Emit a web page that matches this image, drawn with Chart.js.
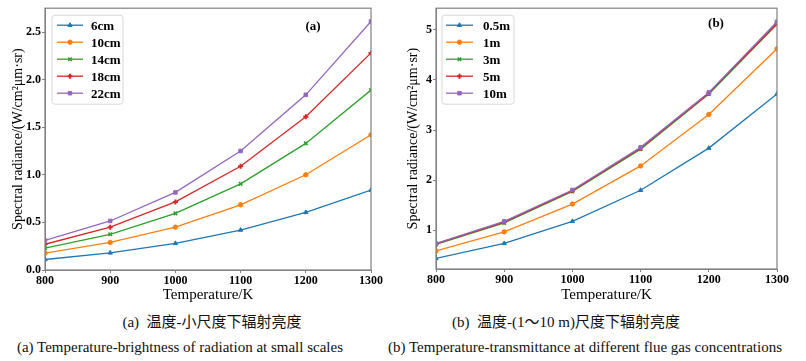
<!DOCTYPE html>
<html><head><meta charset="utf-8">
<script src="https://cdn.jsdelivr.net/npm/chart.js@4.4.1/dist/chart.umd.min.js"></script>
<style>
html,body{margin:0;padding:0;background:#fff;}
body{width:806px;height:361px;overflow:hidden;position:relative;font-family:"Liberation Serif","Noto Sans CJK SC",serif;color:#111;}
.c{position:absolute;top:0;width:403px;height:305px;}
.cap{position:absolute;font-size:15px;line-height:18px;white-space:nowrap;transform:translateX(-50%);}
</style></head><body>
<div class="c" style="left:0"><canvas id="ca" width="403" height="305"></canvas></div>
<div class="c" style="left:403px"><canvas id="cb" width="403" height="305"></canvas></div>
<div class="cap" style="left:212px;top:313px">(a)&nbsp; 温度-小尺度下辐射亮度</div>
<div class="cap" style="left:180px;top:338px">(a) Temperature-brightness of radiation at small scales</div>
<div class="cap" style="left:566px;top:313px">(b)&nbsp; 温度-(1～10 m)尺度下辐射亮度</div>
<div class="cap" style="left:585px;top:338px">(b) Temperature-transmittance at different flue gas concentrations</div>
<script>
// ---- data ----
const temperatures = [800, 900, 1000, 1100, 1200, 1300];
const labelsA = ['6cm', '10cm', '14cm', '18cm', '22cm'];
const a6cm  = [0.11, 0.18, 0.28, 0.42, 0.605, 0.84];
const a10cm = [0.177, 0.29, 0.45, 0.685, 1.0, 1.42];
const a14cm = [0.23, 0.375, 0.595, 0.905, 1.33, 1.89];
const a18cm = [0.27, 0.45, 0.715, 1.09, 1.61, 2.28];
const a22cm = [0.31, 0.515, 0.815, 1.25, 1.84, 2.61];
const labelsB = ['0.5m', '1m', '3m', '5m', '10m'];
const b05m = [0.44, 0.74, 1.18, 1.80, 2.64, 3.72];
const b1m  = [0.59, 0.97, 1.525, 2.285, 3.31, 4.62];
const b3m  = [0.72, 1.15, 1.775, 2.62, 3.72, 5.11];
const b5m  = [0.73, 1.165, 1.79, 2.64, 3.735, 5.13];
const b10m = [0.74, 1.18, 1.805, 2.655, 3.75, 5.16];
const yTicksA = [0.0, 0.5, 1.0, 1.5, 2.0, 2.5];
const yTicksB = [1, 2, 3, 4, 5];

// ---- styles ----
const colors = ['#1f77b4', '#ff7f0e', '#2ca02c', '#d62728', '#9467bd'];
const markers = [
  {pointStyle: 'triangle', pointRadius: 2.5, pointBorderWidth: 1},
  {pointStyle: 'circle', pointRadius: 2.2, pointBorderWidth: 1},
  {pointStyle: 'crossRot', pointRadius: 2.5, pointBorderWidth: 1.5},
  {pointStyle: 'cross', pointRadius: 2.5, pointBorderWidth: 2},
  {pointStyle: 'rect', pointRadius: 2.5, pointBorderWidth: 1}
];
const SERIF = '"Liberation Serif", "Times New Roman", serif';
Chart.defaults.font.family = SERIF;
Chart.defaults.color = '#000';

function makeDatasets(labels, series) {
  return series.map((vals, i) => Object.assign({
    label: labels[i],
    data: temperatures.map((t, j) => ({x: t, y: vals[j]})),
    borderColor: colors[i],
    backgroundColor: colors[i],
    borderWidth: 1.3,
    tension: 0,
    order: series.length - i
  }, markers[i]));
}

const framePlugin = {
  id: 'frameLegend',
  afterDraw(chart, args, o) {
    const ctx = chart.ctx, a = chart.chartArea;
    ctx.save();
    ctx.strokeStyle = '#808080';
    ctx.lineWidth = 1.2;
    ctx.strokeRect(a.left, a.top, a.right - a.left, a.bottom - a.top);
    // legend box
    const bx = a.left + o.dx, by = a.top + o.dy;
    ctx.beginPath();
    if (ctx.roundRect) ctx.roundRect(bx, by, o.w, o.h, 3); else ctx.rect(bx, by, o.w, o.h);
    ctx.fillStyle = 'rgba(255,255,255,0.85)';
    ctx.fill();
    ctx.strokeStyle = '#d8d8d8';
    ctx.lineWidth = 1;
    ctx.stroke();
    chart.data.datasets.forEach((ds, i) => {
      const y = by + o.row0 + i * o.rowH;
      const x0 = bx + o.lx0, x1 = bx + o.lx1;
      ctx.strokeStyle = ds.borderColor;
      ctx.fillStyle = ds.backgroundColor;
      ctx.lineWidth = 1.3;
      ctx.beginPath(); ctx.moveTo(x0, y); ctx.lineTo(x1, y); ctx.stroke();
      ctx.lineWidth = ds.pointBorderWidth;
      Chart.helpers.drawPoint(ctx, {pointStyle: ds.pointStyle, radius: ds.pointRadius, rotation: 0, borderWidth: ds.pointBorderWidth}, (x0 + x1) / 2, y);
      ctx.fillStyle = '#000';
      ctx.font = 'bold 13px ' + SERIF;
      ctx.textBaseline = 'middle';
      ctx.textAlign = 'left';
      ctx.fillText(ds.label, bx + o.tx, y + 1);
    });
    // panel tag
    ctx.font = 'bold 13px ' + SERIF;
    ctx.textAlign = 'center';
    ctx.fillStyle = '#000';
    ctx.fillText(o.tag, o.tagX, o.tagY);
    ctx.restore();
  }
};

function makeChart(id, labels, series, yMin, yMax, yStep, yTicks, fmt, lay, leg) {
  return new Chart(document.getElementById(id), {
    type: 'line',
    data: {datasets: makeDatasets(labels, series)},
    plugins: [framePlugin],
    options: {
      responsive: false, animation: false, devicePixelRatio: 1,
      layout: {padding: {top: lay.top, right: lay.right, left: 0, bottom: 0}},
      plugins: {legend: {display: false}, tooltip: {enabled: false}, frameLegend: leg},
      scales: {
        x: {
          type: 'linear', min: 800, max: 1300,
          ticks: {stepSize: 100, font: {size: 12, weight: 'bold'}, color: '#000', padding: 1, maxRotation: 0, callback: v => String(v)},
          grid: {drawOnChartArea: false, tickLength: 3, color: '#808080'},
          border: {color: '#808080'},
          title: {display: true, text: 'Temperature/K', font: {size: 15}, color: '#000', padding: {top: 0, bottom: 1}},
          afterFit: s => { s.height = 305 - lay.bottom; }
        },
        y: {
          min: yMin, max: yMax,
          ticks: {stepSize: yStep, includeBounds: false, font: {size: 12, weight: 'bold'}, color: '#000', padding: 1, callback: fmt},
          afterBuildTicks: s => { s.ticks = yTicks.map(v => ({value: v})); },
          grid: {drawOnChartArea: false, tickLength: 3, color: '#808080'},
          border: {color: '#808080'},
          title: {display: true, text: 'Spectral radiance/(W/cm²μm·sr)', font: {size: 14}, color: '#000', padding: {top: lay.titlePad, bottom: 0}},
          afterFit: s => { s.width = lay.left; }
        }
      }
    }
  });
}

makeChart('ca', labelsA, [a6cm, a10cm, a14cm, a18cm, a22cm], 0, 2.75, 0.5, yTicksA, v => Number(v).toFixed(1),
  {top: 5, right: 32, left: 45, bottom: 270, titlePad: 10},
  {dx: 7, dy: 7, w: 71, h: 89, row0: 10, rowH: 17, lx0: 5, lx1: 31, tx: 39, tag: '(a)', tagX: 313, tagY: 27});
makeChart('cb', labelsB, [b05m, b1m, b3m, b5m, b10m], 0.23, 5.43, 1, yTicksB, v => String(v),
  {top: 5, right: 29, left: 33, bottom: 269, titlePad: 2},
  {dx: 6, dy: 7, w: 72, h: 89, row0: 10, rowH: 17, lx0: 4, lx1: 31, tx: 41, tag: '(b)', tagX: 313, tagY: 24});
</script>
</body></html>
